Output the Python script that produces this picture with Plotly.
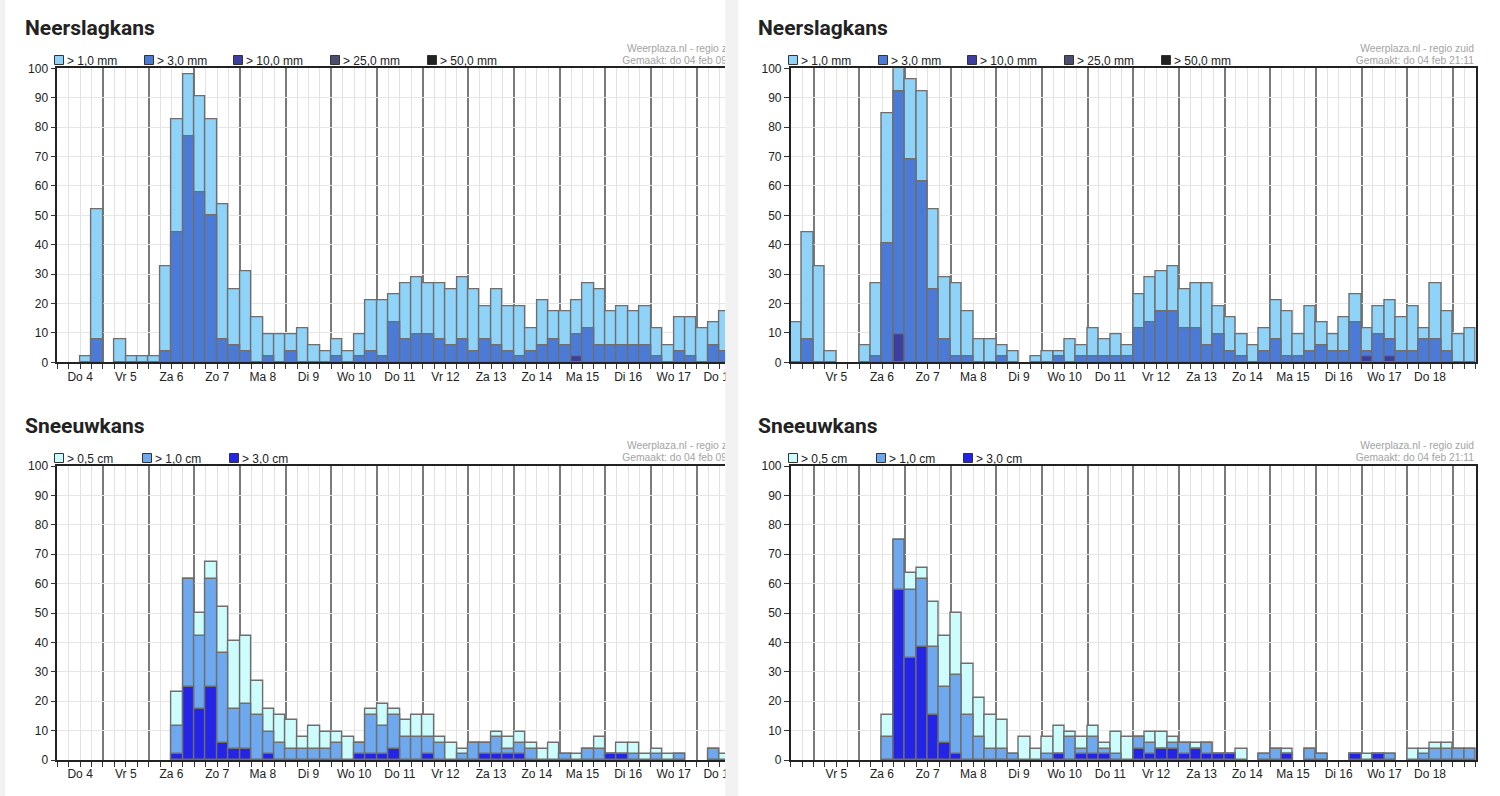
import plotly.graph_objects as go

W, H = 1500, 796

# ---------------- data ----------------
days = ["Do 4", "Vr 5", "Za 6", "Zo 7", "Ma 8", "Di 9", "Wo 10", "Do 11",
        "Vr 12", "Za 13", "Zo 14", "Ma 15", "Di 16", "Wo 17", "Do 18", "Vr 19"]

rain_labels = ["> 1,0 mm", "> 3,0 mm", "> 10,0 mm", "> 25,0 mm", "> 50,0 mm"]
rain_colors = ["#8fd3f9", "#4b7bd6", "#3d3fa0", "#4c4e70", "#222222"]
snow_labels = ["> 0,5 cm", "> 1,0 cm", "> 3,0 cm"]
snow_colors = ["#cdfcfc", "#6ea8ee", "#2424e6"]

# run of 09h, 6-hour slots starting Do 4 00:00 (visible part)
rain09_gt1 = [0, 0, 1.9, 51.9, 0, 7.7, 1.9, 1.9, 1.9, 32.7, 82.7, 98.1,
              90.4, 82.7, 53.8, 25.0, 30.8, 15.4, 9.6, 9.6, 9.6, 11.5, 5.8, 3.8,
              7.7, 3.8, 9.6, 21.2, 21.2, 23.1, 26.9, 28.8, 26.9, 26.9, 25.0, 28.8,
              25.0, 19.2, 25.0, 19.2, 19.2, 11.5, 21.2, 17.3, 17.3, 21.2, 26.9, 25.0,
              17.3, 19.2, 17.3, 19.2, 11.5, 5.8, 15.4, 15.4, 11.5, 13.5, 17.3]
rain09_gt3 = [0, 0, 0, 7.7, 0, 0, 0, 0, 0, 3.8, 44.2, 76.9,
              57.7, 50.0, 7.7, 5.8, 3.8, 0, 1.9, 0, 3.8, 0, 0, 0,
              1.9, 0, 1.9, 3.8, 1.9, 13.5, 7.7, 9.6, 9.6, 7.7, 5.8, 7.7,
              3.8, 7.7, 5.8, 3.8, 1.9, 3.8, 5.8, 7.7, 5.8, 9.6, 11.5, 5.8,
              5.8, 5.8, 5.8, 5.8, 1.9, 0, 3.8, 1.9, 0, 5.8, 3.8]
rain09_gt10 = [0, 0, 0, 0, 0, 0, 0, 0, 0, 0, 0, 0,
               0, 0, 0, 0, 0, 0, 0, 0, 0, 0, 0, 0,
               0, 0, 0, 0, 0, 0, 0, 0, 0, 0, 0, 0,
               0, 0, 0, 0, 0, 0, 0, 0, 0, 1.9, 0, 0,
               0, 0, 0, 0, 0, 0, 0, 0, 0, 0, 0]
rain09_gt25 = [0, 0, 0, 0, 0, 0, 0, 0, 0, 0, 0, 0,
               0, 0, 0, 0, 0, 0, 0, 0, 0, 0, 0, 0,
               0, 0, 0, 0, 0, 0, 0, 0, 0, 0, 0, 0,
               0, 0, 0, 0, 0, 0, 0, 0, 0, 0, 0, 0,
               0, 0, 0, 0, 0, 0, 0, 0, 0, 0, 0]
rain09_gt50 = list(rain09_gt25)

snow09_gt05 = [0, 0, 0, 0, 0, 0, 0, 0, 0, 0, 23.1, 61.5,
               50.0, 67.3, 51.9, 40.4, 42.3, 26.9, 17.3, 15.4, 13.5, 7.7, 11.5, 9.6,
               9.6, 7.7, 5.8, 17.3, 19.2, 17.3, 13.5, 15.4, 15.4, 7.7, 5.8, 3.8,
               5.8, 5.8, 9.6, 7.7, 9.6, 5.8, 3.8, 5.8, 1.9, 1.9, 3.8, 7.7,
               1.9, 5.8, 5.8, 1.9, 3.8, 1.9, 1.9, 0, 0, 3.8, 1.9]
snow09_gt1 = [0, 0, 0, 0, 0, 0, 0, 0, 0, 0, 11.5, 61.5,
              42.3, 61.5, 36.5, 17.3, 19.2, 15.4, 9.6, 5.8, 3.8, 3.8, 3.8, 3.8,
              5.8, 0, 5.8, 15.4, 11.5, 15.4, 7.7, 7.7, 7.7, 5.8, 0, 1.9,
              5.8, 5.8, 7.7, 3.8, 5.8, 3.8, 0, 0, 1.9, 0, 3.8, 3.8,
              1.9, 1.9, 1.9, 0, 1.9, 0, 1.9, 0, 0, 3.8, 0]
snow09_gt3 = [0, 0, 0, 0, 0, 0, 0, 0, 0, 0, 1.9, 25.0,
              17.3, 25.0, 5.8, 3.8, 3.8, 0, 1.9, 0, 0, 0, 0, 0,
              0, 0, 1.9, 1.9, 1.9, 3.8, 0, 0, 1.9, 0, 0, 0,
              0, 1.9, 1.9, 1.9, 1.9, 0, 0, 0, 0, 0, 0, 0,
              1.9, 1.9, 0, 0, 0, 0, 0, 0, 0, 0, 0]

# run of 21h, 6-hour slots starting Do 4 12:00
rain21_gt1 = [13.5, 44.2, 32.7, 3.8, 0, 0, 5.8, 26.9, 84.6, 100.0,
              96.2, 92.3, 51.9, 28.8, 26.9, 17.3, 7.7, 7.7, 5.8, 3.8, 0, 1.9,
              3.8, 3.8, 7.7, 5.8, 11.5, 7.7, 9.6, 5.8, 23.1, 28.8, 30.8, 32.7,
              25.0, 26.9, 26.9, 19.2, 15.4, 9.6, 5.8, 11.5, 21.2, 17.3, 9.6, 19.2,
              13.5, 9.6, 15.4, 23.1, 11.5, 19.2, 21.2, 15.4, 19.2, 11.5, 26.9, 17.3,
              9.6, 11.5]
rain21_gt3 = [0, 7.7, 0, 0, 0, 0, 0, 1.9, 40.4, 92.3,
              69.2, 61.5, 25.0, 7.7, 1.9, 1.9, 0, 0, 1.9, 0, 0, 0,
              0, 1.9, 0, 1.9, 1.9, 1.9, 1.9, 1.9, 11.5, 13.5, 17.3, 17.3,
              11.5, 11.5, 5.8, 9.6, 3.8, 1.9, 0, 3.8, 7.7, 1.9, 1.9, 3.8,
              5.8, 3.8, 3.8, 13.5, 3.8, 9.6, 7.7, 3.8, 3.8, 7.7, 7.7, 3.8,
              0, 0]
rain21_gt10 = [0, 0, 0, 0, 0, 0, 0, 0, 0, 9.6,
               0, 0, 0, 0, 0, 0, 0, 0, 0, 0, 0, 0,
               0, 0, 0, 0, 0, 0, 0, 0, 0, 0, 0, 0,
               0, 0, 0, 0, 0, 0, 0, 0, 0, 0, 0, 0,
               0, 0, 0, 0, 1.9, 0, 1.9, 0, 0, 0, 0, 0,
               0, 0]
rain21_gt25 = [0, 0, 0, 0, 0, 0, 0, 0, 0, 0,
               0, 0, 0, 0, 0, 0, 0, 0, 0, 0, 0, 0,
               0, 0, 0, 0, 0, 0, 0, 0, 0, 0, 0, 0,
               0, 0, 0, 0, 0, 0, 0, 0, 0, 0, 0, 0,
               0, 0, 0, 0, 0, 0, 0, 0, 0, 0, 0, 0,
               0, 0]
rain21_gt50 = list(rain21_gt25)

snow21_gt05 = [0, 0, 0, 0, 0, 0, 0, 0, 15.4, 75.0,
               63.5, 65.4, 53.8, 42.3, 50.0, 32.7, 21.2, 15.4, 13.5, 1.9, 7.7, 3.8,
               7.7, 11.5, 9.6, 7.7, 11.5, 5.8, 9.6, 7.7, 7.7, 9.6, 9.6, 7.7,
               5.8, 5.8, 5.8, 1.9, 1.9, 3.8, 0, 1.9, 3.8, 3.8, 0, 3.8,
               1.9, 0, 0, 1.9, 1.9, 1.9, 1.9, 0, 3.8, 3.8, 5.8, 5.8,
               3.8, 3.8]
snow21_gt1 = [0, 0, 0, 0, 0, 0, 0, 0, 7.7, 75.0,
              57.7, 61.5, 38.5, 25.0, 28.8, 15.4, 7.7, 3.8, 3.8, 1.9, 0, 0,
              1.9, 1.9, 7.7, 3.8, 7.7, 3.8, 1.9, 0, 7.7, 5.8, 3.8, 5.8,
              5.8, 3.8, 5.8, 1.9, 1.9, 0, 0, 1.9, 3.8, 1.9, 0, 3.8,
              1.9, 0, 0, 1.9, 0, 1.9, 1.9, 0, 0, 1.9, 3.8, 3.8,
              3.8, 3.8]
snow21_gt3 = [0, 0, 0, 0, 0, 0, 0, 0, 0, 57.7,
              34.6, 38.5, 15.4, 5.8, 1.9, 0, 0, 0, 0, 0, 0, 0,
              0, 1.9, 0, 1.9, 1.9, 1.9, 0, 0, 3.8, 1.9, 3.8, 3.8,
              1.9, 3.8, 1.9, 1.9, 1.9, 0, 0, 0, 0, 1.9, 0, 0,
              0, 0, 0, 1.9, 0, 1.9, 0, 0, 0, 0, 0, 0,
              0, 0]

header_site = "Weerplaza.nl - regio zuid"
made_09 = "Gemaakt: do 04 feb 09:11"
made_21 = "Gemaakt: do 04 feb 21:11"

# ---------------- layout geometry (pixels) ----------------
SLOTS_PER_DAY = 4
N_SLOTS = 60
PLOT_W = 685.0
SLOT_PX = PLOT_W / N_SLOTS
BASE_FONT = "Liberation Sans, Arial, sans-serif"
BORDER = "#6e6e6e"
LIGHT_GRID = "#e2e2e2"
DAY_LINE = "#7a7a7a"
LEGEND_ITEM_GAP = 45          # plotly: symbol area 40 + item gap 5
rain_steps = [90, 89, 97, 97, 130]   # distance between legend boxes (px)
snow_steps = [88, 87, 130]

panels = [
    dict(n=1, x0=57.3, x1=725.3, top=68.3, bot=362.3, first_slot=0,
         series=[rain09_gt1, rain09_gt3, rain09_gt10, rain09_gt25, rain09_gt50],
         names=rain_labels, colors=rain_colors, steps=rain_steps, sym_x=59, leg_y=60,
         title="Neerslagkans", title_y=28, made=made_09, txt_axis=9, txt_right=740.6,
         txt_y=(49.5, 61.5), mirror_y=False),
    dict(n=2, x0=790.7, x1=1475.7, top=68.3, bot=362.3, first_slot=2,
         series=[rain21_gt1, rain21_gt3, rain21_gt10, rain21_gt25, rain21_gt50],
         names=rain_labels, colors=rain_colors, steps=rain_steps, sym_x=793, leg_y=60,
         title="Neerslagkans", title_y=28, made=made_21, txt_axis=10, txt_right=1474,
         txt_y=(49.5, 61.5), mirror_y=True),
    dict(n=3, x0=57.3, x1=725.3, top=466, bot=760, first_slot=0,
         series=[snow09_gt05, snow09_gt1, snow09_gt3],
         names=snow_labels, colors=snow_colors, steps=snow_steps, sym_x=59, leg_y=458,
         title="Sneeuwkans", title_y=426, made=made_09, txt_axis=9, txt_right=740.6,
         txt_y=(446.5, 458.5), mirror_y=False),
    dict(n=4, x0=790.7, x1=1475.7, top=466, bot=760, first_slot=2,
         series=[snow21_gt05, snow21_gt1, snow21_gt3],
         names=snow_labels, colors=snow_colors, steps=snow_steps, sym_x=793, leg_y=458,
         title="Sneeuwkans", title_y=426, made=made_21, txt_axis=10, txt_right=1474,
         txt_y=(446.5, 458.5), mirror_y=True),
]


def sfx(n):
    return "" if n == 1 else str(n)


fig = go.Figure()
layout = dict(
    width=W, height=H, margin=dict(l=0, r=0, t=0, b=0, autoexpand=False),
    paper_bgcolor="white", plot_bgcolor="rgba(0,0,0,0)",
    barmode="overlay", showlegend=True, bargap=0,
    font=dict(family=BASE_FONT, size=12, color="#222"),
    annotations=[], shapes=[],
)

for p in panels:
    n = p["n"]
    s = sfx(n)
    lab = str(n + 4)
    x_end = -0.5 + (p["x1"] - p["x0"]) / SLOT_PX
    first_bound = (SLOTS_PER_DAY - p["first_slot"]) % SLOTS_PER_DAY - 0.5
    day_bounds = [first_bound + SLOTS_PER_DAY * k for k in range(16)
                  if first_bound + SLOTS_PER_DAY * k <= x_end]
    slot_bounds = [i - 0.5 for i in range(N_SLOTS + 1) if i - 0.5 <= x_end]
    day_offset = 0 if p["first_slot"] == 0 else 1
    centers, ctext = [], []
    for k, b in enumerate(day_bounds):
        c = b + SLOTS_PER_DAY / 2
        if b + SLOTS_PER_DAY <= N_SLOTS - 0.5 and c <= x_end:
            centers.append(c)
            ctext.append(days[k + day_offset])

    xs = list(range(N_SLOTS))
    for vals, name, col in zip(p["series"], p["names"], p["colors"]):
        yv = [v if v else None for v in vals]
        fig.add_trace(go.Bar(
            x=xs[:len(yv)], y=yv, width=1.0, name=name,
            marker=dict(color=col, line=dict(color=BORDER, width=1.4)),
            xaxis="x" + s, yaxis="y" + s, showlegend=False, hoverinfo="y"))

    # invisible trace so that the day-label axis is drawn
    fig.add_trace(go.Scatter(x=[None], y=[None], xaxis="x" + lab, yaxis="y" + s,
                             showlegend=False, hoverinfo="skip", mode="markers"))

    # legend: one legend draws the boxes, a second one the texts next to them
    sym_leg = "legend" + s
    txt_leg = "legend" + lab
    for name, col, step in zip(p["names"], p["colors"], p["steps"]):
        fig.add_trace(go.Scatter(
            x=[None], y=[None], mode="markers", name=" ",
            marker=dict(symbol="square", size=9, color=col,
                        line=dict(color="#333", width=1)),
            xaxis="x" + s, yaxis="y" + s, legend=sym_leg, showlegend=True,
            legendwidth=step - LEGEND_ITEM_GAP, hoverinfo="skip"))
        fig.add_trace(go.Scatter(
            x=[None], y=[None], mode="markers", name=name,
            marker=dict(symbol="square", size=1, color="rgba(0,0,0,0)", opacity=0,
                        line=dict(width=0)),
            xaxis="x" + s, yaxis="y" + s, legend=txt_leg, showlegend=True,
            legendwidth=step - LEGEND_ITEM_GAP, hoverinfo="skip"))
    for leg, lx in [(sym_leg, p["sym_x"] - 20), (txt_leg, p["sym_x"] + 8 - 40)]:
        layout[leg] = dict(
            orientation="h", x=lx / W, xanchor="left",
            y=1 - p["leg_y"] / H, yanchor="middle",
            entrywidthmode="pixels",
            font=dict(size=12, color="#222", family=BASE_FONT),
            bgcolor="rgba(0,0,0,0)", borderwidth=0, traceorder="normal",
            itemclick=False, itemdoubleclick=False)

    # main x axis: day separators (dark) + 6-hour slots (light minor grid)
    layout["xaxis" + s] = dict(
        domain=[p["x0"] / W, p["x1"] / W], anchor="y" + s,
        range=[-0.5, x_end], tickmode="array", tickvals=day_bounds,
        ticks="outside", ticklen=5, tickwidth=1, tickcolor="#333",
        showticklabels=False, showgrid=True, gridcolor=DAY_LINE, gridwidth=1.5,
        showline=True, linecolor="#222", linewidth=1.5, mirror=True,
        zeroline=False, fixedrange=True, automargin=False,
        minor=dict(tickmode="array", tickvals=slot_bounds, ticks="outside",
                   ticklen=5, tickwidth=1, tickcolor="#333", showgrid=True,
                   gridcolor=LIGHT_GRID, gridwidth=1))
    # overlay axis carrying the day names
    layout["xaxis" + lab] = dict(
        overlaying="x" + s, anchor="y" + s, side="bottom",
        range=[-0.5, x_end], tickmode="array", tickvals=centers, ticktext=ctext,
        ticks="outside", ticklen=3, tickcolor="rgba(0,0,0,0)",
        showgrid=False, showline=False, zeroline=False, fixedrange=True,
        automargin=False, tickfont=dict(size=12, color="#222"))
    layout["yaxis" + s] = dict(
        domain=[1 - p["bot"] / H, 1 - p["top"] / H], anchor="x" + s,
        range=[0, 100], dtick=10, tick0=0, ticks="outside", ticklen=5,
        tickwidth=1, tickcolor="#333", showgrid=True, gridcolor="#e6e6e6",
        gridwidth=1, showline=True, linecolor="#222", linewidth=1.5,
        mirror=p["mirror_y"], zeroline=False, fixedrange=True, automargin=False,
        tickfont=dict(size=12, color="#222"))
    layout["annotations"].append(dict(
        text="<b>" + p["title"] + "</b>", xref="paper", yref="paper",
        x=(p["x0"] - 34.3) / W, y=1 - p["title_y"] / H, xanchor="left",
        yanchor="middle", showarrow=False,
        font=dict(family="Roboto, Liberation Sans, sans-serif", size=21, color="#222")))
    # header texts on a clipping text axis
    ta = str(p["txt_axis"])
    fig.add_trace(go.Scatter(
        x=[p["txt_right"], p["txt_right"]], y=list(p["txt_y"]),
        text=[header_site, p["made"]], mode="text", textposition="middle left",
        textfont=dict(size=10.3, color="#a3a3a3", family=BASE_FONT),
        xaxis="x" + ta, yaxis="y" + ta, showlegend=False, hoverinfo="skip",
        cliponaxis=True))

# text axes: the left one is clipped at the edge of the left page column
hidden = dict(visible=False, fixedrange=True, automargin=False,
              showticklabels=False, ticks="", showgrid=False, zeroline=False)
layout["xaxis9"] = dict(domain=[0, 725.3 / W], range=[0, 725.3], anchor="y9", **hidden)
layout["yaxis9"] = dict(domain=[0, 1], range=[H, 0], anchor="x9", **hidden)
layout["xaxis10"] = dict(domain=[738.3 / W, 1], range=[738.3, W], anchor="y10", **hidden)
layout["yaxis10"] = dict(domain=[0, 1], range=[H, 0], anchor="x10", **hidden)

# page background strips
for xa, xb in [(0, 5), (725.3, 738.3)]:
    layout["shapes"].append(dict(
        type="rect", xref="paper", yref="paper", x0=xa / W, x1=xb / W, y0=0, y1=1,
        fillcolor="#f2f2f2", line=dict(width=0), layer="above"))

fig.update_layout(**layout)
fig.write_html(
    "out.html",
    config={"displayModeBar": False},
    post_script="document.body.style.margin='0px';"
                "document.body.style.overflow='hidden';")
